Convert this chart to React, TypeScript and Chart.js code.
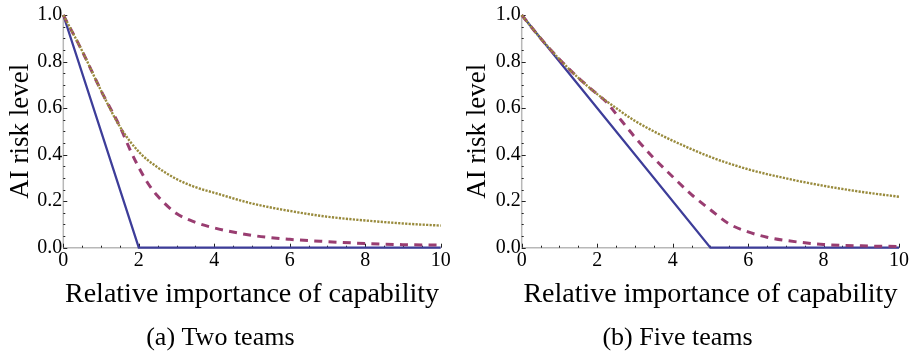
import React, { useEffect, useRef } from "react";
import { Chart, registerables } from "chart.js";

Chart.register(...registerables);

// ---------- data ----------
// (a) Two teams
const TWO_SOLID_X = [0, 2, 10];
const TWO_SOLID_Y = [1, 0, 0];
const TWO_DASH_X = [0, 0.5, 1, 1.5, 1.8, 2, 2.25, 2.5, 3, 3.5, 4, 5, 6, 7, 8, 9, 10];
const TWO_DASH_Y = [1, 0.845, 0.675, 0.52, 0.41, 0.345, 0.275, 0.222, 0.147, 0.109, 0.085, 0.053, 0.036, 0.026, 0.018, 0.013, 0.011];
const TWO_DOT_X = [0, 0.5, 1, 1.5, 2, 2.5, 3, 3.5, 4, 5, 6, 7, 8, 9, 10];
const TWO_DOT_Y = [1, 0.845, 0.675, 0.52, 0.412, 0.345, 0.295, 0.26, 0.236, 0.19, 0.158, 0.133, 0.117, 0.104, 0.095];

// (b) Five teams
const FIVE_SOLID_X = [0, 5, 10];
const FIVE_SOLID_Y = [1, 0, 0];
const FIVE_DASH_X = [0, 0.5, 1, 1.5, 2, 2.25, 2.5, 3, 3.5, 4, 4.5, 5, 5.5, 6, 6.5, 7, 8, 9, 10];
const FIVE_DASH_Y = [1, 0.9, 0.81, 0.73, 0.66, 0.625, 0.575, 0.475, 0.385, 0.305, 0.228, 0.163, 0.102, 0.068, 0.045, 0.031, 0.014, 0.008, 0.005];
const FIVE_DOT_X = [0, 0.5, 1, 1.5, 2, 2.5, 3, 3.5, 4, 5, 6, 7, 8, 9, 10];
const FIVE_DOT_Y = [1, 0.9, 0.81, 0.73, 0.66, 0.6, 0.545, 0.5, 0.46, 0.39, 0.337, 0.298, 0.266, 0.24, 0.219];

const X_TICKS = [0, 2, 4, 6, 8, 10];
const Y_TICKS = [0, 0.2, 0.4, 0.6, 0.8, 1.0];

const X_TITLE = "Relative importance of capability";
const Y_TITLE = "AI risk level";
const CAPTION_A = "(a) Two teams";
const CAPTION_B = "(b) Five teams";

// ---------- styles ----------
const SERIF = "'Liberation Serif', 'Times New Roman', serif";
const BLUE = "#3d3d99";
const PURPLE = "#993d71";
const GOLD = "#998b3d";
const AXIS = "#b8b8b8";

const zip = (xs: number[], ys: number[]) => xs.map((x, i) => ({ x, y: ys[i] }));

const axesPlugin = {
  id: "mmaAxes",
  beforeDatasetsDraw(chart: any) {
    const { ctx, chartArea, scales } = chart;
    const xs = scales.x;
    const ys = scales.y;
    const x0 = xs.getPixelForValue(0);
    const y0 = ys.getPixelForValue(0);
    ctx.save();
    ctx.strokeStyle = AXIS;
    ctx.lineWidth = 1.5;
    ctx.beginPath();
    ctx.moveTo(chartArea.left, y0);
    ctx.lineTo(chartArea.right, y0);
    ctx.moveTo(x0, chartArea.top);
    ctx.lineTo(x0, chartArea.bottom);
    ctx.stroke();
    ctx.strokeStyle = "#222";
    ctx.lineWidth = 1;
    ctx.beginPath();
    for (let i = 0; i <= 20; i++) {
      const v = i * 0.5;
      const px = Math.round(xs.getPixelForValue(v)) + 0.5;
      const len = i % 4 === 0 ? 4 : 2;
      ctx.moveTo(px, y0);
      ctx.lineTo(px, y0 - len);
    }
    for (let i = 0; i <= 20; i++) {
      const v = i * 0.05;
      const py = Math.round(ys.getPixelForValue(v)) + 0.5;
      const len = i % 4 === 0 ? 4 : 2;
      ctx.moveTo(x0, py);
      ctx.lineTo(x0 + len, py);
    }
    ctx.stroke();
    ctx.restore();
  },
};

type PanelProps = {
  caption: string;
  solidX: number[];
  solidY: number[];
  dashX: number[];
  dashY: number[];
  dotX: number[];
  dotY: number[];
  yWidth: number;
  padRight: number;
  yTitlePad: number;
};

function Panel(p: PanelProps) {
  const ref = useRef<HTMLCanvasElement>(null);
  useEffect(() => {
    if (!ref.current) return;
    const chart = new Chart(ref.current, {
      type: "line",
      data: {
        datasets: [
          {
            data: zip(p.dotX, p.dotY),
            borderColor: GOLD,
            borderWidth: 2.4,
            borderDash: [2.2, 1.3],
            pointRadius: 0,
            cubicInterpolationMode: "monotone",
            fill: false,
            clip: false,
            order: 0,
          },
          {
            data: zip(p.dashX, p.dashY),
            borderColor: PURPLE,
            borderWidth: 3,
            borderDash: [8, 6.3],
            pointRadius: 0,
            cubicInterpolationMode: "monotone",
            fill: false,
            clip: false,
            order: 1,
          },
          {
            data: zip(p.solidX, p.solidY),
            borderColor: BLUE,
            borderWidth: 2.3,
            pointRadius: 0,
            tension: 0,
            fill: false,
            clip: false,
            order: 2,
          },
        ] as any,
      },
      options: {
        animation: false,
        responsive: false,
        events: [],
        layout: { padding: { top: 15, right: p.padRight, left: 0, bottom: 0 } },
        plugins: {
          legend: { display: false },
          tooltip: { enabled: false },
          title: {
            display: true,
            text: p.caption,
            position: "bottom",
            color: "#000",
            font: { family: SERIF, size: 26, weight: "normal" },
            padding: { top: 7, bottom: 0.5 },
          },
        },
        scales: {
          x: {
            type: "linear",
            min: 0,
            max: 10,
            afterBuildTicks: (s: any) => {
              s.ticks = X_TICKS.map((v) => ({ value: v }));
            },
            grid: { display: false, drawTicks: false },
            border: { display: false },
            ticks: {
              padding: 1,
              color: "#000",
              autoSkip: false,
              maxRotation: 0,
              font: { family: SERIF, size: 20 },
              callback: (v: any) => String(v),
            },
            title: {
              display: true,
              text: X_TITLE,
              color: "#000",
              font: { family: SERIF, size: 28 },
              padding: { top: 0, bottom: 4.2 },
            },
            afterFit: (s: any) => {
              s.height = 67.6;
            },
          },
          y: {
            type: "linear",
            min: 0,
            max: 1,
            afterBuildTicks: (s: any) => {
              s.ticks = Y_TICKS.map((v) => ({ value: v }));
            },
            grid: { display: false, drawTicks: false },
            border: { display: false },
            ticks: {
              padding: 1,
              color: "#000",
              autoSkip: false,
              font: { family: SERIF, size: 20 },
              callback: (v: any) => Number(v).toFixed(1),
            },
            title: {
              display: true,
              text: Y_TITLE,
              color: "#000",
              font: { family: SERIF, size: 27 },
              padding: { top: p.yTitlePad, bottom: 0 },
            },
            afterFit: (s: any) => {
              s.width = p.yWidth;
            },
          },
        },
      } as any,
      plugins: [axesPlugin],
    });
    return () => chart.destroy();
  }, []);
  return (
    <div style={{ width: 456, height: 354 }}>
      <canvas ref={ref} width={456} height={354} style={{ width: 456, height: 354, display: "block" }} />
    </div>
  );
}

export default function App() {
  return (
    <div style={{ position: "absolute", left: 0, top: 0, width: 912, height: 354, display: "flex", background: "#fff" }}>
      <Panel
        caption={CAPTION_A}
        solidX={TWO_SOLID_X}
        solidY={TWO_SOLID_Y}
        dashX={TWO_DASH_X}
        dashY={TWO_DASH_Y}
        dotX={TWO_DOT_X}
        dotY={TWO_DOT_Y}
        yWidth={63.3}
        padRight={15.3}
        yTitlePad={4.6}
      />
      <Panel
        caption={CAPTION_B}
        solidX={FIVE_SOLID_X}
        solidY={FIVE_SOLID_Y}
        dashX={FIVE_DASH_X}
        dashY={FIVE_DASH_Y}
        dotX={FIVE_DOT_X}
        dotY={FIVE_DOT_Y}
        yWidth={65.7}
        padRight={12.9}
        yTitlePad={5.8}
      />
    </div>
  );
}
